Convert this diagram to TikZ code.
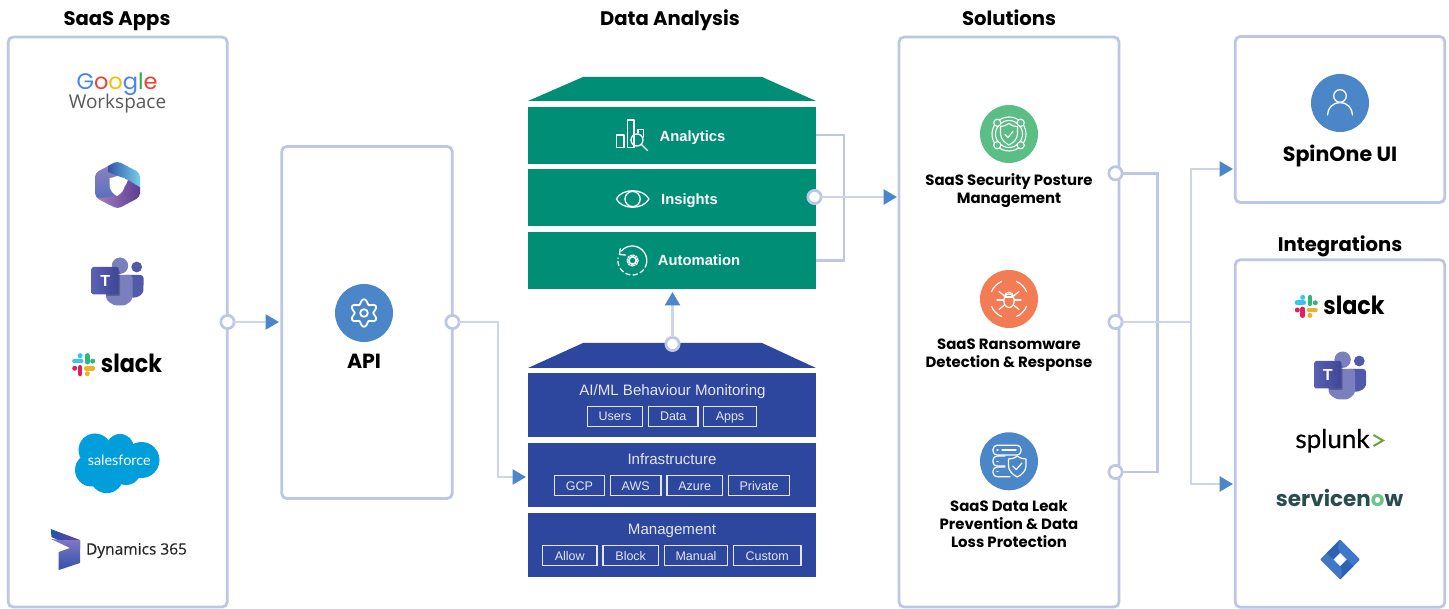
\documentclass[tikz,border=0pt]{standalone}
\usepackage{fontspec}
\setmainfont{Liberation Sans}
\newfontfamily\headf{Poppins}
\newfontfamily\slackf{Poppins}[FakeStretch=0.89]
\newfontfamily\logof{Open Sans}
\newfontfamily\logomed{Open Sans}[FakeBold=0.35]
\newfontfamily\latof{Lato}
\newfontfamily\latomed{Lato}[FakeBold=0.5]
\usetikzlibrary{arrows.meta,calc}
\definecolor{panel}{HTML}{BEC6E6}
\definecolor{wire}{HTML}{CFD4EC}
\definecolor{tip}{HTML}{4A86C8}
\definecolor{tealb}{HTML}{008E76}
\definecolor{navyb}{HTML}{2C479D}
\definecolor{soft}{HTML}{E4E7F3}
\definecolor{slblue}{RGB}{54,197,240}
\definecolor{slgreen}{RGB}{46,182,125}
\definecolor{slyellow}{RGB}{236,178,46}
\definecolor{slred}{RGB}{224,30,90}
\definecolor{tmdark}{RGB}{80,89,170}
\definecolor{tmmid}{RGB}{122,128,190}
\definecolor{icgreen}{RGB}{91,191,133}
\definecolor{icorange}{RGB}{244,124,84}
\definecolor{sfblue}{RGB}{0,158,219}
\tikzset{
 panelbox/.style={draw=panel,line width=2.8pt,rounded corners=5pt,fill=white,inner sep=0,outer sep=0},
 port/.style={circle,draw=panel,line width=2.7pt,fill=white,minimum size=13.3pt,inner sep=0,outer sep=0},
 wireline/.style={draw=wire,line width=2.6pt},
 panelline/.style={draw=panel,line width=2.6pt},
 flow/.style={-{Triangle[length=13.5pt 0 0,width=15pt 0 0,color=tip]}},
 head/.style={anchor=base,font=\headf\bfseries\fontsize{19.6}{20}\selectfont,text=black,inner sep=0},
 sol/.style={font=\headf\bfseries\fontsize{14.9}{18}\selectfont,text=black,align=center,inner sep=0},
 layer/.style={fill=#1,inner sep=0,outer sep=0},
 cell/.style={draw=soft,line width=1.1pt,inner sep=0,outer sep=0,minimum height=20pt},
 celltext/.style={anchor=base,text=soft,inner sep=0,font=\fontsize{12.5}{14}\selectfont},
 ltitle/.style={anchor=base,text=soft,inner sep=0,font=\fontsize{15.1}{17}\selectfont},
 gtext/.style={anchor=base,text=white,inner sep=0,font=\bfseries\fontsize{14.8}{16}\selectfont},
 ico/.style={draw=white,line width=1.3pt,line cap=round,line join=round},
 slacktext/.style={anchor=base,inner sep=0,text=black,font=\slackf\bfseries\fontsize{25}{26}\selectfont},
 pics/slackmark/.style={code={
  \begin{scope}[line width=4.7pt,line cap=round]
   \draw[slblue] (-9.2,-3.6)--(-2.6,-3.6);
   \fill[slblue] (-3.6,-9) circle (2.5);
   \draw[slgreen] (3.6,-9.2)--(3.6,-2.6);
   \fill[slgreen] (9,-3.6) circle (2.5);
   \draw[slyellow] (2.6,3.6)--(9.2,3.6);
   \fill[slyellow] (3.6,9) circle (2.5);
   \draw[slred] (-3.6,2.6)--(-3.6,9.2);
   \fill[slred] (-9,3.6) circle (2.5);
  \end{scope}}},
 pics/teamsmark/.style={code={
  \fill[tmdark] (18.7,-14) circle (5.4);
  \fill[tmdark,rounded corners=3pt] (5,-6)--(25.5,-6)--(25.5,7)..controls (25,13) and (20,17)..(12,16.5)--cycle;
  \fill[tmmid] (2,-15.3) circle (8.2);
  \fill[tmmid,rounded corners=3pt] (-12,-6)--(14.5,-6)--(14.5,13)..controls (14.5,20) and (8,24.5)..(2,24.5)..controls (-5,24.5) and (-12,20)..(-12,13)--cycle;
  \fill[black!60!tmdark,opacity=.35,rounded corners=1pt] (-12,-10) rectangle (2,15);
  \shade[left color={rgb,255:red,90;green,96;blue,178},right color={rgb,255:red,62;green,70;blue,150},rounded corners=1.5pt] (-26.3,-14) rectangle (0.7,13.5);
  \node[inner sep=0,text=white,font=\bfseries\fontsize{16}{16}\selectfont] at (-12.8,-0.4) {T};}},
}
\begin{document}
\begin{tikzpicture}[x=1pt,y=-1pt]
\useasboundingbox (0,0) rectangle (1449,609);
\fill[white] (0,0) rectangle (1449,609);

% panels
\node[panelbox,minimum width=219pt,minimum height=570pt] (apps) at (117.7,322) {};
\node[panelbox,minimum width=170.5pt,minimum height=352pt] (apibox) at (367,322.5) {};
\node[panelbox,minimum width=220pt,minimum height=570pt] (solbox) at (1009,322) {};
\node[panelbox,minimum width=209.5pt,minimum height=166pt] (spinbox) at (1340,119.5) {};
\node[panelbox,minimum width=209.5pt,minimum height=347.5pt] (intbox) at (1340,433.5) {};

% headings
\node[head] (h1) at (117,25.8) {SaaS Apps};
\node[head] (h2) at (670,25.8) {Data Analysis};
\node[head] (h3) at (1009,25.8) {Solutions};
\node[head] (h4) at (1340,251.5) {Integrations};

% green stack
\fill[tealb] (583,77)--(762,77)--(816,101)--(528,101)--cycle;
\node[layer=tealb,minimum width=288pt,minimum height=57pt] (ana) at (672,135.5) {};
\node[layer=tealb,minimum width=288pt,minimum height=57pt] (ins) at (672,197.5) {};
\node[layer=tealb,minimum width=288pt,minimum height=57pt] (aut) at (672,260.5) {};
\node[gtext] (tana) at (692.5,141.2) {Analytics};
\node[gtext] (tins) at (689.5,204.8) {Insights};
\node[gtext] (taut) at (699,266) {Automation};
% analytics icon
\begin{scope}[ico]
 \draw (616.7,135) rectangle (624,147.3);
 \draw (627.3,120) rectangle (634,147.3);
 \draw (638,133)--(638,129.5)--(643.7,129.5)--(643.7,137);
 \draw (637,140) circle (6);
 \draw (641.3,144.3)--(647.7,150.7);
 % eye
 \draw (616.3,199)..controls (622,188) and (643,188)..(649,199)..controls (643,210) and (622,210)..(616.3,199)--cycle;
 \draw (632.6,199) circle (7.6);
 % automation
 \draw (621.2,251.2) arc (-140:10:14.5);
 \draw (620.2,248.8)--(619.5,254.5)--(625.5,255);
 \draw[dash pattern=on 4.5pt off 3pt] (646.6,263) arc (10:190:14.5);
 \draw[line width=1.6pt] (632.6,260.5) circle (3.7);
 \draw[line width=1.3pt,dash pattern=on 1.6pt off 1.3pt] (632.6,260.5) circle (5.6);
\end{scope}

% blue stack
\fill[navyb] (583,343)--(762,343)--(816,368)--(528,368)--cycle;
\node[layer=navyb,minimum width=288pt,minimum height=64pt] (aiml) at (672,405) {};
\node[layer=navyb,minimum width=288pt,minimum height=64pt] (infra) at (672,475) {};
\node[layer=navyb,minimum width=288pt,minimum height=64pt] (mgmt) at (672,545) {};
\node[ltitle] (taiml) at (672.5,395.5) {AI/ML Behaviour Monitoring};
\node[ltitle] (tinfra) at (672,464.8) {Infrastructure};
\node[ltitle] (tmgmt) at (672,534.3) {Management};
\node[cell,minimum width=55pt] (c1) at (615,416.5) {};
\node[cell,minimum width=49.5pt] (c2) at (673.2,416.5) {};
\node[cell,minimum width=53pt] (c3) at (730,416.5) {};
\node[cell,minimum width=50.5pt] (c4) at (579.5,485.5) {};
\node[cell,minimum width=50.5pt] (c5) at (635.7,485.5) {};
\node[cell,minimum width=55.5pt] (c6) at (694.7,485.5) {};
\node[cell,minimum width=61.5pt] (c7) at (759,485.5) {};
\node[cell,minimum width=54.5pt] (c8) at (569.7,555.5) {};
\node[cell,minimum width=55.5pt] (c9) at (630.7,555.5) {};
\node[cell,minimum width=63.5pt] (c10) at (696,555.5) {};
\node[cell,minimum width=67.5pt] (c11) at (767.2,555.5) {};
\node[celltext] (t1) at (615,421) {Users};
\node[celltext] (t2) at (673.2,421) {Data};
\node[celltext] (t3) at (730,421) {Apps};
\node[celltext] (t4) at (579.5,490.5) {GCP};
\node[celltext] (t5) at (635.7,490.5) {AWS};
\node[celltext] (t6) at (694.7,490.5) {Azure};
\node[celltext] (t7) at (759,490.5) {Private};
\node[celltext] (t8) at (569.7,560.3) {Allow};
\node[celltext] (t9) at (630.7,560.3) {Block};
\node[celltext] (t10) at (696,560.3) {Manual};
\node[celltext] (t11) at (767.2,560.3) {Custom};

% ports
\node[port] (p1) at (227.5,322) {};
\node[port] (p2) at (452.5,322) {};
\node[port] (p3) at (672.5,344) {};
\node[port] (p4) at (814.5,197) {};
\node[port] (p5) at (1115.5,173.3) {};
\node[port] (p6) at (1115.5,322) {};
\node[port] (p7) at (1115.5,472) {};

% joints
\coordinate (apiin) at (279,322);
\coordinate (j1) at (498,322);
\coordinate (infrain) at (526,477);
\coordinate (up) at (672.5,292);
\coordinate (solin) at (897,197);
\coordinate (rbus) at (844,135);
\coordinate (ebus) at (1157.5,173.3);
\coordinate (obus) at (1191,322);
\coordinate (spinin) at (1233,169);
\coordinate (intin) at (1233,484);

% connectors
\draw[wireline,flow] (p1)--(apiin);
\draw[wireline,flow] (p2)--(j1)--(j1|-infrain)--(infrain);
\draw[wireline,flow] (p3)--(up);
\draw[panelline] (ana.east|-rbus)--(rbus)--(rbus|-aut)--(aut.east);
\draw[wireline,flow] (p4)--(solin);
\draw[panelline] (p5)--(ebus)--(ebus|-p7)--(p7);
\draw[wireline] (p6)--(obus);
\draw[wireline,flow] (obus)--(obus|-spinin)--(spinin);
\draw[wireline,flow] (obus)--(obus|-intin)--(intin);

% API
\fill[tip] (364,313) circle (29);
\draw[ico,line width=1.8pt] plot[domain=0:360,samples=73,smooth] ({364+(11.5-2.2*cos(6*\x))*cos(\x)},{313+(11.5-2.2*cos(6*\x))*sin(\x)})--cycle;
\draw[ico,line width=1.8pt] (364,313) circle (3.8);
\node[head,font=\headf\bfseries\fontsize{20.5}{22}\selectfont] (tapi) at (364,368.2) {API};

% Solutions icons
\fill[icgreen] (1009,134) circle (29);
\begin{scope}[ico,line width=1.1pt]
 \draw (1009,134) circle (17);
 \draw (1009,134) circle (13.5);
 \foreach \sx/\sy in {-11.7/-11.2,11.7/-11.2,-11.7/11.2,11.7/11.2}
  \draw[fill=icgreen] (1009+\sx,134+\sy) circle (3.6);
 \draw (1009,123.5)..controls (1004,126.5) and (1001,126.5)..(1000.5,126.5)--(1000.5,134)..controls (1000.5,139) and (1005,143)..(1009,145)..controls (1013,143) and (1017.5,139)..(1017.5,134)--(1017.5,126.5)..controls (1016,126.5) and (1013,126.5)..(1009,123.5)--cycle;
 \draw (1005,134.5)--(1008,137.5)--(1013,131.5);
\end{scope}
\fill[icorange] (1009,299) circle (29);
\begin{scope}[ico,line width=1.2pt]
 \draw (1009,300.7) ellipse (5.2 and 6.8);
 \draw (1004.5,296.5) arc (180:360:4.5 and 4.3);
 \draw (1004.5,297)--(1013.5,297);
 \foreach \a in {-1,1}{
  \draw (1009+\a*5.2,300)--(1009+\a*12,300);
  \draw (1009+\a*4.5,296)--(1009+\a*10,291.5);
  \draw (1009+\a*4.5,305)--(1009+\a*10,309.5);}
 \foreach \a in {45,135,225,315}
  \draw ($(1009,299)+(\a-22:19)$) arc (\a-22:\a+22:19);
\end{scope}
\fill[tip] (1009,461.3) circle (29);
\begin{scope}[ico,line width=1.2pt]
 \draw[rounded corners=4pt] (993,445.3) rectangle (1021,455);
 \draw[rounded corners=4pt] (1005,456.1)--(993,456.1)--(993,466.1)--(1005,466.1);
 \draw[rounded corners=4pt] (1005,467.1)--(993,467.1)--(993,476.7)--(1010,476.7);
 \draw (997,450.1)--(998,450.1);
 \draw (1002,450.1)--(1016,450.1);
 \draw (997,461.3)--(998,461.3);
 \draw (997,471.9)--(998,471.9);
 \draw[fill=tip] (1017.3,456)..controls (1014,458.5) and (1011,459)..(1008.5,459)--(1008.5,466)..controls (1008.5,471) and (1013,475)..(1017.3,477)..controls (1021.5,475) and (1026,471)..(1026,466)--(1026,459)..controls (1023.5,459) and (1020.5,458.5)..(1017.3,456)--cycle;
 \draw (1012.8,466)--(1016.3,469.5)--(1022,463);
\end{scope}
\node[sol] (s1) at (1009,190.5) {SaaS Security Posture\\Management};
\node[sol] (s2) at (1009,355.5) {SaaS Ransomware\\Detection \& Response};
\node[sol] (s3) at (1009,524) {SaaS Data Leak\\Prevention \& Data\\Loss Protection};

% SpinOne
\fill[tip] (1340,103) circle (29);
\begin{scope}[ico,line width=1.3pt]
 \draw (1340,96) circle (6.3);
 \draw (1327.5,115) arc (180:360:12.5 and 12.5);
\end{scope}
\node[head,font=\headf\bfseries\fontsize{20.6}{22}\selectfont] (tspin) at (1340,161.4) {SpinOne UI};

% Google Workspace
\node[inner sep=0,font=\headf\fontsize{22.5}{24}\selectfont] (gg) at (117,84) {\textcolor[HTML]{4285F4}{G}\textcolor[HTML]{EA4335}{o}\textcolor[HTML]{FBBC05}{o}\textcolor[HTML]{4285F4}{g}\textcolor[HTML]{34A853}{l}\textcolor[HTML]{EA4335}{e}};
\node[inner sep=0,text=black!65,font=\logof\fontsize{19}{20}\selectfont] (gw) at (117.5,104) {Workspace};

% M365
\begin{scope}
 \clip[rounded corners=4pt] (117.5,161)--(140,173)--(140,197)--(117.5,209)--(95,197)--(95,173)--cycle;
 \shade[bottom color={rgb,255:red,75;green,110;blue,185},top color={rgb,255:red,150;green,130;blue,195}] (95,161) rectangle (118,205);
 \shade[left color={rgb,255:red,50;green,85;blue,170},right color={rgb,255:red,120;green,210;blue,235}] (108,161)--(141,161)--(141,190)--(128,180)--(108,172)--cycle;
 \shade[left color={rgb,255:red,165;green,130;blue,190},right color={rgb,255:red,90;green,60;blue,145}] (100,198)..controls (115,198) and (125,190)..(128,180)--(141,188)--(141,210)--(95,210)--(95,198)--cycle;
\end{scope}
\fill[white] (117,176)..controls (114,177.5) and (111.5,178)..(109.5,178)--(109.5,185)..controls (109.5,190) and (113,194)..(117,196)..controls (121,194) and (124.5,190)..(124.5,185)--(124.5,178)..controls (122.5,178) and (120,177.5)..(117,176)--cycle;

% Teams
\pic at (118,281) {teamsmark};
\pic at (1340.6,375) {teamsmark};

% Slack
\pic at (83.7,364.7) {slackmark};
\node[slacktext] (sl1) at (131.5,372.7) {slack};
\pic at (1306.3,306.4) {slackmark};
\node[slacktext] (sl2) at (1354,315) {slack};

% Salesforce
\begin{scope}[color=sfblue]
 \fill (95,450) circle (16.5);
 \fill (120,448) circle (14);
 \fill (141.5,460) circle (18);
 \fill (91.5,470) circle (16.5);
 \fill (106.7,476.7) circle (16.5);
 \fill (126,470) circle (15);
 \fill (110,462) circle (20);
\end{scope}
\node[anchor=base,inner sep=0,text=white,font=\latof\fontsize{14.4}{18}\selectfont] (sf) at (119.3,466) {salesforce};

% Dynamics
\shade[left color={rgb,255:red,35;green,85;blue,175},right color={rgb,255:red,105;green,60;blue,160}] (50.7,529)--(80,540)--(80,549)--(66,544)--(51.5,537)--cycle;
\shade[bottom color={rgb,255:red,50;green,80;blue,170},top color={rgb,255:red,130;green,120;blue,195}] (80,540)--(80,563)--(58.7,570)--(58.7,552)--(70,548)--(51,539)--(60,540)--cycle;
\node[anchor=base,inner sep=0,text=black!85,font=\logomed\fontsize{15.5}{18}\selectfont] (dy) at (136.5,554.5) {Dynamics 365};

% Splunk
\node[anchor=base,inner sep=0,text=black,font=\latomed\fontsize{26}{28}\selectfont] (spl) at (1332.5,448) {splunk};
\draw[color={rgb,255:red,101;green,166;blue,55},line width=2pt] (1373.5,435)--(1383,440.5)--(1373.5,446);

% ServiceNow
\node[inner sep=0,text={rgb,255:red,41;green,77;blue,78},font=\headf\bfseries\fontsize{21.5}{24}\selectfont] (sn) at (1339.5,498) {servicen\textcolor[HTML]{6FC28B}{o}w};

% Jira
\fill[color={rgb,255:red,63;green,120;blue,200},rounded corners=1pt] (1340,539.5)--(1360,559.5)--(1340,579.5)--(1320,559.5)--cycle;
\fill[color={rgb,255:red,48;green,98;blue,180}] (1340,539.5)..controls (1337,546) and (1338,550)..(1340,553)--(1333.5,559.5)--(1326.5,553)--cycle;
\fill[color={rgb,255:red,48;green,98;blue,180}] (1340,579.5)..controls (1343,573) and (1342,569)..(1340,566)--(1346.5,559.5)--(1353.5,566)--cycle;
\fill[white] (1340,553)--(1346.5,559.5)--(1340,566)--(1333.5,559.5)--cycle;
\end{tikzpicture}
\end{document}
